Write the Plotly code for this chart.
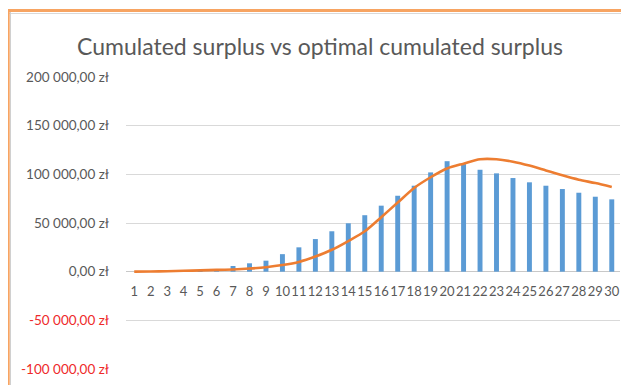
import plotly.graph_objects as go

categories = [str(i) for i in range(1, 31)]
cumulated_surplus = [0, 200, 500, 900, 1500, 2700, 5800, 8600, 11300, 18000,
                     25000, 33500, 41500, 49700, 58000, 67800, 78000, 88300, 102000, 113500,
                     110500, 104700, 101000, 96200, 91800, 88300, 84900, 81100, 77000, 74300]
optimal_surplus = [0, 200, 500, 900, 1300, 1800, 2300, 3200, 4600, 6800,
                   10000, 15500, 22500, 31500, 41500, 56000, 71000, 86000, 97000, 106000,
                   111000, 115500, 115500, 113000, 109000, 104000, 99000, 94500, 91000, 87000]
y_tick_vals = [-100000, -50000, 0, 50000, 100000, 150000, 200000]
y_tick_text = ["-100 000,00 zł", "-50 000,00 zł", "0,00 zł", "50 000,00 zł",
               "100 000,00 zł", "150 000,00 zł", "200 000,00 zł"]
title_text = "Cumulated surplus vs optimal cumulated surplus"

GREY = "#595959"
RED = "#EE2A2A"
styled_ticks = [
    (f'<span style="color:{RED}">{t}</span>' if v < 0 else t)
    for v, t in zip(y_tick_vals, y_tick_text)
]

fig = go.Figure()
fig.add_trace(go.Bar(x=categories, y=cumulated_surplus, marker_color="#5B9BD5",
                     marker_line_width=0, name="Cumulated surplus"))
fig.add_trace(go.Scatter(x=categories, y=optimal_surplus, mode="lines",
                         line=dict(color="#ED7D31", width=2.6, shape="spline", smoothing=0.8),
                         name="Optimal cumulated surplus"))

# the page body has an 8px margin, so the figure is placed 8px right/down
OFF = 8
W, H = 629 - OFF, 385 - OFF
L, R, T, B = 126 - OFF, 9, 77 - OFF, 16
pw, ph = W - L - R, H - T - B

def px_x(x):
    return (x - OFF - L) / pw

def px_y(y):
    return (H - B - (y - OFF)) / ph

fig.update_layout(
    width=W, height=H,
    margin=dict(l=L, r=R, t=T, b=B),
    paper_bgcolor="white", plot_bgcolor="white",
    showlegend=False,
    bargap=0.7,
    font=dict(family="Lato, Open Sans, sans-serif", color=GREY),
    title=dict(text=title_text, x=(320 - OFF) / W, xanchor="center",
               y=1 - (47 - OFF) / H, yanchor="middle", yref="container",
               font=dict(size=23, color=GREY, family="Lato, sans-serif")),
    xaxis=dict(type="category", dtick=1, tickangle=0, anchor="free",
               position=px_y(272), showgrid=False, showline=False, zeroline=False,
               ticks="", ticklabelstandoff=10,
               tickfont=dict(size=13, color=GREY)),
    yaxis=dict(range=[-100000, 200000], tickvals=y_tick_vals, ticktext=styled_ticks,
               showgrid=True, gridcolor="#D9D9D9", gridwidth=1,
               zeroline=True, zerolinecolor="#C8C8C8", zerolinewidth=1,
               ticks="", ticklabelstandoff=16, showline=False,
               tickfont=dict(size=13.5, color=GREY)),
    shapes=[
        dict(type="line", xref="paper", yref="paper", x0=px_x(5), x1=px_x(640),
             y0=px_y(13.5), y1=px_y(13.5), line=dict(color="#D9D9D9", width=1)),
        dict(type="line", xref="paper", yref="paper", x0=px_x(10.5), x1=px_x(10.5),
             y0=px_y(12), y1=px_y(400), line=dict(color="#D0D0D0", width=1)),
        dict(type="line", xref="paper", yref="paper", x0=px_x(5), x1=px_x(640),
             y0=px_y(10.5), y1=px_y(10.5), line=dict(color="#F7A462", width=3)),
        dict(type="line", xref="paper", yref="paper", x0=px_x(8.2), x1=px_x(8.2),
             y0=px_y(9), y1=px_y(400), line=dict(color="#F7A462", width=3)),
    ],
)

fig.write_html("out.html")
